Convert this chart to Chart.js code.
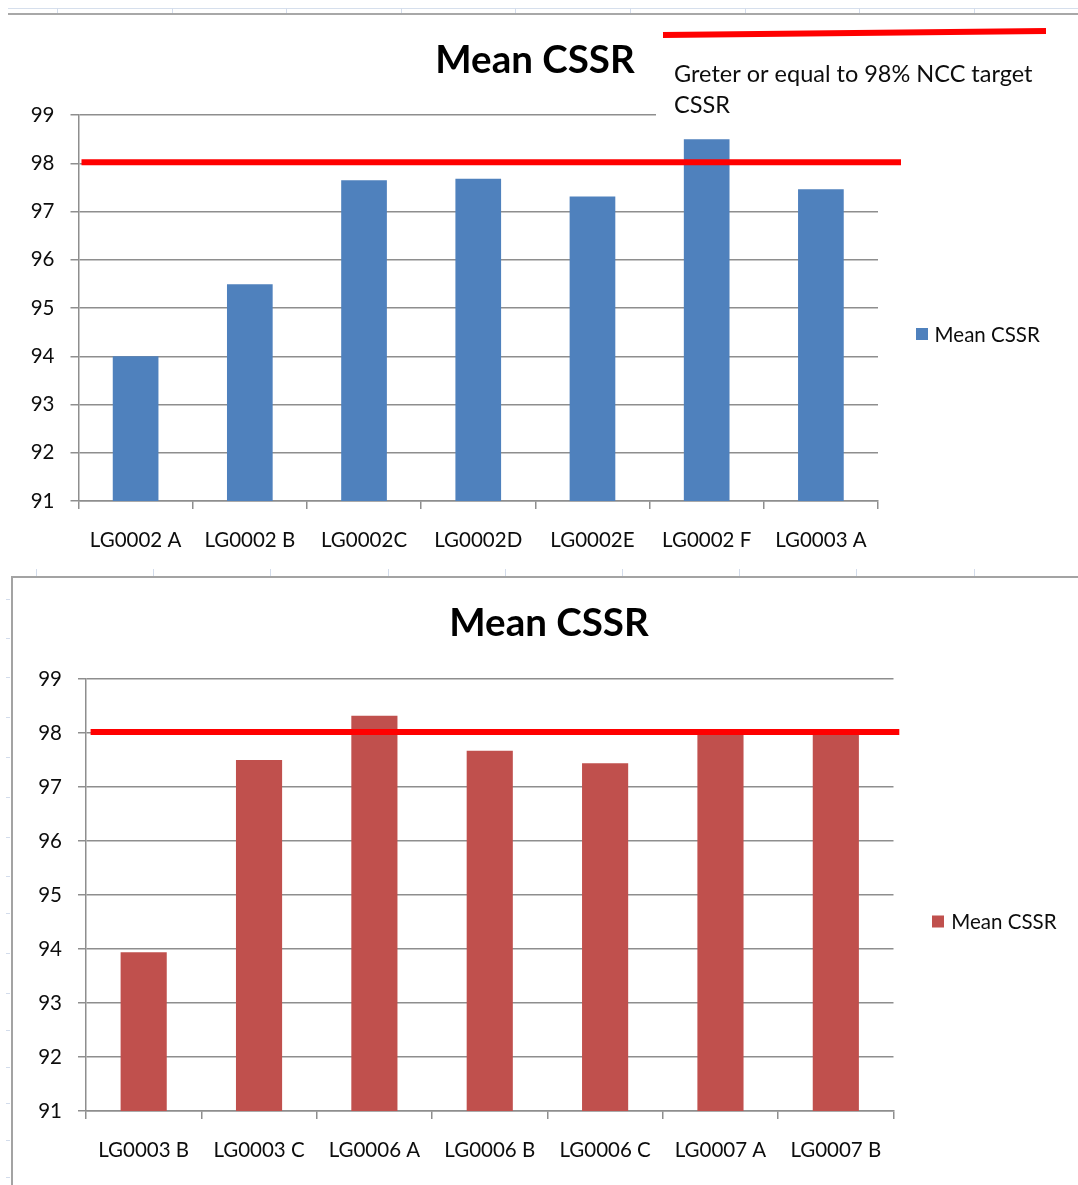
<!DOCTYPE html>
<html>
<head>
<meta charset="utf-8">
<title>Mean CSSR</title>
<script src="https://cdn.jsdelivr.net/npm/chart.js@4.4.1/dist/chart.umd.min.js"></script>
<style>
  html, body { margin: 0; padding: 0; background: #ffffff; }
  body { width: 1078px; height: 1185px; position: relative; overflow: hidden; }
  .abs { position: absolute; }
  .sheet-line { position: absolute; left: 8px; width: 1070px; }
  .tick { position: absolute; background: #d3dceb; }
  #frameBottom { left: 11px; top: 576px; width: 1080px; height: 620px;
                 border-left: 2px solid #a3a3a3; border-top: 2px solid #a3a3a3; }
</style>
</head>
<body>
<div class="sheet-line" style="top:8px;height:1px;background:#d6dfec;"></div>
<div class="sheet-line" style="top:13px;height:2px;background:#a8a8a8;"></div>
<div id="sheetTicks"></div>
<div id="frameBottom" class="abs"></div>
<canvas id="chartTop" class="abs" width="1078" height="570" style="left:0;top:0;"></canvas>
<canvas id="chartBottom" class="abs" width="1066" height="608" style="left:12px;top:577px;"></canvas>
<script>
// ---- data ----
const seriesName = 'Mean CSSR';
const topCategories = ['LG0002 A', 'LG0002 B', 'LG0002C', 'LG0002D', 'LG0002E', 'LG0002 F', 'LG0003 A'];
const topValues = [94.0, 95.49, 97.65, 97.68, 97.31, 98.5, 97.46];
const bottomCategories = ['LG0003 B', 'LG0003 C', 'LG0006 A', 'LG0006 B', 'LG0006 C', 'LG0007 A', 'LG0007 B'];
const bottomValues = [93.94, 97.5, 98.32, 97.67, 97.44, 98.0, 98.0];
const axisMin = 91;
const axisMax = 99;
const axisStep = 1;
const targetValue = 98;
const targetNote = ['Greter or equal to 98% NCC target', 'CSSR'];

// ---- styling ----
const FONT = "Lato, 'Open Sans', sans-serif";
const GRID = '#8e8e8e';
const TEXT = '#0d0d0d';
const BLUE = '#4f81bd';
const RED_BAR = '#c0504d';
const MARKER = '#ff0000';

// faint worksheet cell marks around the charts
(function sheetMarks() {
  const host = document.getElementById('sheetTicks');
  const add = (l, t, w, h) => {
    const d = document.createElement('div');
    d.className = 'tick';
    d.style.cssText = `left:${l}px;top:${t}px;width:${w}px;height:${h}px;`;
    host.appendChild(d);
  };
  for (let x = 57; x < 1078; x += 114.6) add(Math.round(x), 8, 1, 5);
  for (let x = 36; x < 1078; x += 117.2) add(Math.round(x), 569, 1, 7);
  [599, 638, 677, 717, 757, 797, 837, 876, 913, 953, 993, 1030, 1067, 1103, 1140, 1177]
    .forEach(y => add(6, y, 4, 1));
})();

// red target marker drawn over the bars at the target value
const targetLine = {
  id: 'targetLine',
  afterDatasetsDraw(chart, args, opts) {
    const { ctx, chartArea } = chart;
    const y = chart.scales.y.getPixelForValue(opts.value);
    ctx.save();
    ctx.strokeStyle = MARKER;
    ctx.lineWidth = 6;
    ctx.beginPath();
    ctx.moveTo(chartArea.left + opts.inset, y - 1);
    ctx.lineTo(chartArea.right + opts.extend, y - 1);
    ctx.stroke();
    ctx.restore();
  }
};

// series key placed to the right of the plot
const seriesKey = {
  id: 'seriesKey',
  afterDraw(chart, args, opts) {
    const { ctx, chartArea } = chart;
    const ds = chart.data.datasets[0];
    const x = chartArea.right + opts.dx;
    const y = (chartArea.top + chartArea.bottom) / 2 + opts.dy;
    ctx.save();
    ctx.fillStyle = ds.backgroundColor;
    ctx.fillRect(x, y - 6, 12, 12);
    ctx.font = `20.5px ${FONT}`;
    ctx.fillStyle = TEXT;
    ctx.textBaseline = 'middle';
    ctx.fillText(ds.label, x + opts.gap, y + 1);
    ctx.restore();
  }
};

// text box explaining the red marker
const markerNote = {
  id: 'markerNote',
  afterDraw(chart, args, opts) {
    if (!opts.lines) return;
    const { ctx } = chart;
    ctx.save();
    ctx.fillStyle = '#ffffff';
    ctx.fillRect(opts.box[0], opts.box[1], opts.box[2], opts.box[3]);
    ctx.strokeStyle = MARKER;
    ctx.lineWidth = 6;
    ctx.beginPath();
    ctx.moveTo(opts.key[0], opts.key[1]);
    ctx.lineTo(opts.key[2], opts.key[3]);
    ctx.stroke();
    ctx.font = `23.5px ${FONT}`;
    ctx.fillStyle = TEXT;
    ctx.textBaseline = 'alphabetic';
    opts.lines.forEach((t, i) => ctx.fillText(t, opts.x, opts.y + i * opts.lineGap));
    ctx.restore();
  }
};

function buildChart(canvasId, categories, values, color, g) {
  return new Chart(document.getElementById(canvasId), {
    type: 'bar',
    data: {
      labels: categories,
      datasets: [{
        label: seriesName,
        data: values,
        backgroundColor: color,
        borderWidth: 0,
        barPercentage: 0.4,
        categoryPercentage: 1.0
      }]
    },
    options: {
      responsive: false,
      animation: false,
      devicePixelRatio: 1,
      layout: { padding: { left: g.padLeft, right: g.padRight, top: 0, bottom: 0 } },
      plugins: {
        legend: { display: false },
        tooltip: { enabled: false },
        title: {
          display: true,
          text: seriesName,
          color: '#000000',
          font: { family: FONT, size: 38.5, weight: 'bold', lineHeight: 1.2 },
          padding: { top: g.titleTop, bottom: g.titleBottom }
        },
        targetLine: { value: targetValue, inset: g.lineInset, extend: g.lineExtend },
        seriesKey: { dx: g.keyDx, dy: g.keyDy, gap: g.keyGap },
        markerNote: g.note || {}
      },
      scales: {
        x: {
          grid: { display: true, drawOnChartArea: false, drawTicks: true, tickLength: 8,
                  offset: true, color: GRID, lineWidth: 1.5 },
          border: { display: true, color: GRID, width: 1.5 },
          ticks: { color: TEXT, font: { family: FONT, size: 20.5 }, padding: 19,
                   maxRotation: 0, autoSkip: false },
          afterFit(s) { s.height = g.xHeight; }
        },
        y: {
          min: axisMin,
          max: axisMax,
          grid: { color: GRID, lineWidth: 1.5, tickLength: 8, drawTicks: true },
          border: { display: true, color: GRID, width: 1.5 },
          ticks: { stepSize: axisStep, color: TEXT, font: { family: FONT, size: 20.5 }, padding: 16 },
          afterFit(s) { s.width = g.yWidth; }
        },
        keySpace: {
          type: 'linear',
          position: 'right',
          grid: { display: false },
          border: { display: false },
          ticks: { display: false },
          afterFit(s) { s.width = g.rightWidth; }
        }
      }
    },
    plugins: [targetLine, seriesKey, markerNote]
  });
}

function draw() {
  buildChart('chartTop', topCategories, topValues, BLUE, {
    padLeft: 0, padRight: 8, yWidth: 78.5, rightWidth: 192,
    titleTop: 37.5, titleBottom: 31.3, xHeight: 69,
    lineInset: 3, lineExtend: 23,
    keyDx: 38, keyDy: 26, keyGap: 18.6,
    note: {
      lines: targetNote, x: 674, y: 81.5, lineGap: 31.7,
      box: [656, 40, 410, 84],
      key: [663, 35, 1046, 31]
    }
  });
  buildChart('chartBottom', bottomCategories, bottomValues, RED_BAR, {
    padLeft: 8, padRight: 0, yWidth: 66, rightWidth: 184.5,
    titleTop: 23.3, titleBottom: 32.5, xHeight: 74,
    lineInset: 4.6, lineExtend: 5.8,
    keyDx: 38.5, keyDy: 26.5, keyGap: 19.3
  });
}

if (document.fonts && document.fonts.load) {
  Promise.all([document.fonts.load(`20px ${FONT}`), document.fonts.load(`bold 38px ${FONT}`)])
    .then(draw, draw);
} else {
  draw();
}
</script>
</body>
</html>
